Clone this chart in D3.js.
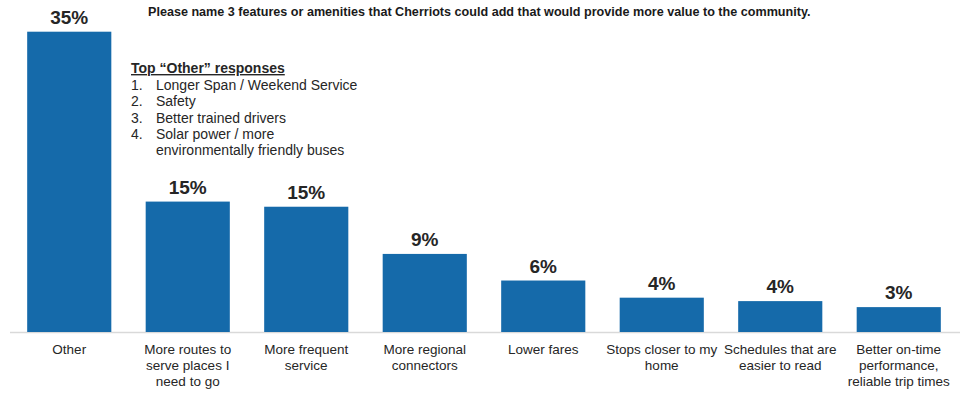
<!DOCTYPE html>
<html>
<head>
<meta charset="utf-8">
<script src="https://cdn.jsdelivr.net/npm/d3@7"></script>
<style>
  html, body { margin: 0; padding: 0; background: #fff; }
  svg { display: block; font-family: "Liberation Sans", Arial, sans-serif; }
</style>
</head>
<body>
<svg id="chart" width="974" height="394"></svg>
<script>
// Survey answers: share of respondents naming each feature
const categories = [
  "Other",
  "More routes to serve places I need to go",
  "More frequent service",
  "More regional connectors",
  "Lower fares",
  "Stops closer to my home",
  "Schedules that are easier to read",
  "Better on-time performance, reliable trip times"
];
// Line breaks for the category labels
const categoryLines = [
  ["Other"],
  ["More routes to", "serve places I", "need to go"],
  ["More frequent", "service"],
  ["More regional", "connectors"],
  ["Lower fares"],
  ["Stops closer to my", "home"],
  ["Schedules that are", "easier to read"],
  ["Better on-time", "performance,", "reliable trip times"]
];
const shares = [0.35, 0.152, 0.146, 0.091, 0.060, 0.040, 0.036, 0.029];

const title = "Please name 3 features or amenities that Cherriots could add that would provide more value to the community.";
const otherHeading = "Top \u201cOther\u201d responses";
const otherResponses = [
  ["Longer Span / Weekend Service"],
  ["Safety"],
  ["Better trained drivers"],
  ["Solar power / more", "environmentally friendly buses"]
];

const svg = d3.select("#chart");
const baseY = 332;
const topY = 31.7;

const x = d3.scaleBand()
  .domain(categories)
  .range([10, 958])
  .paddingInner(0.29)
  .paddingOuter(0.145);

const y = d3.scaleLinear()
  .domain([0, 0.35])
  .range([baseY, topY]);

const pct = d3.format(".0%");

// Baseline axis (no ticks, labels drawn separately)
const xAxis = d3.axisBottom(x).tickSize(0).tickFormat("");
const gx = svg.append("g").attr("transform", `translate(0,${baseY})`).call(xAxis);
gx.select(".domain").attr("stroke", "#d9d9d9").attr("stroke-width", 1.5)
  .attr("d", `M10,0.5H960`);

// Bars
svg.append("g").selectAll("rect")
  .data(categories)
  .join("rect")
  .attr("x", d => x(d))
  .attr("width", x.bandwidth())
  .attr("y", (d, i) => y(shares[i]))
  .attr("height", (d, i) => baseY - y(shares[i]))
  .attr("fill", "#156aaa");

// Value labels
svg.append("g").selectAll("text")
  .data(categories)
  .join("text")
  .attr("x", d => x(d) + x.bandwidth() / 2)
  .attr("y", (d, i) => y(shares[i]) - 8)
  .attr("text-anchor", "middle")
  .attr("font-size", 19)
  .attr("font-weight", "bold")
  .attr("fill", "#262626")
  .text((d, i) => pct(shares[i]));

// Category labels
const cat = svg.append("g").selectAll("text")
  .data(categories)
  .join("text")
  .attr("text-anchor", "middle")
  .attr("font-size", 13.5)
  .attr("fill", "#262626");
cat.each(function(d, i) {
  d3.select(this).selectAll("tspan")
    .data(categoryLines[i])
    .join("tspan")
    .attr("x", x(d) + x.bandwidth() / 2)
    .attr("y", (l, j) => 354 + j * 16)
    .text(l => l);
});

// Chart title
svg.append("text")
  .attr("x", 148)
  .attr("y", 16)
  .attr("font-size", 12.6)
  .attr("font-weight", "bold")
  .attr("fill", "#1a1a1a")
  .text(title);

// Breakdown of the "Other" answers
const note = svg.append("g").attr("fill", "#262626").attr("font-size", 14);
note.append("text")
  .attr("x", 131)
  .attr("y", 73)
  .attr("font-weight", "bold")
  .attr("text-decoration", "underline")
  .text(otherHeading);
let row = 0;
otherResponses.forEach((lines, i) => {
  note.append("text")
    .attr("x", 131)
    .attr("y", 90 + row * 16.3)
    .text(`${i + 1}.`);
  lines.forEach(l => {
    note.append("text")
      .attr("x", 156)
      .attr("y", 90 + row * 16.3)
      .text(l);
    row++;
  });
});
</script>
</body>
</html>
